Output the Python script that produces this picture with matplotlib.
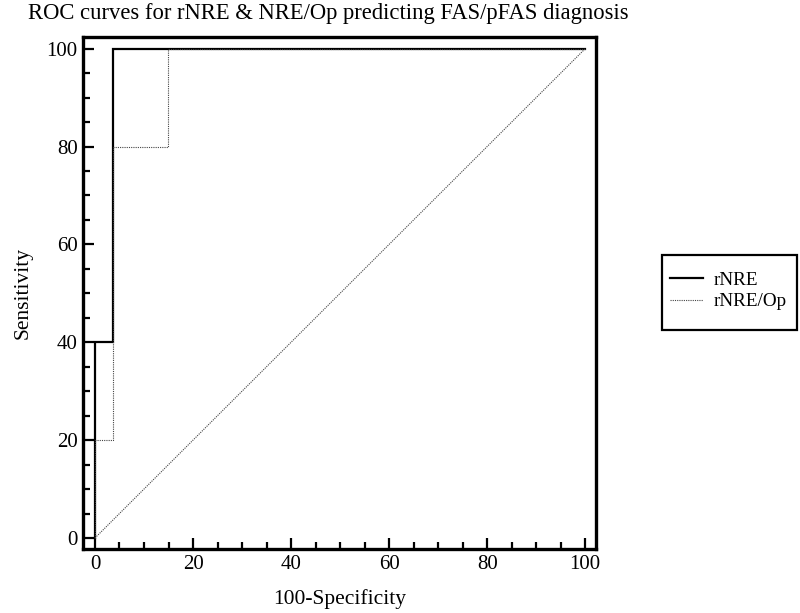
import matplotlib
matplotlib.use('Agg')
import matplotlib.pyplot as plt
from matplotlib.patches import Rectangle
from matplotlib.ticker import MultipleLocator

plt.rcParams['font.family'] = ['Liberation Serif', 'DejaVu Serif']

# ROC step points (100-specificity, sensitivity)
rnre_x = [0, 0, 3.6, 3.6, 100]
rnre_y = [0, 40, 40, 100, 100]
rnre_op_x = [0, 0, 3.6, 3.6, 14.8, 14.8, 100]
rnre_op_y = [0, 20, 20, 80, 80, 100, 100]
diag = [0, 100]

fig = plt.figure(figsize=(8, 6.13), dpi=100)
ax = fig.add_axes([0.104, 0.104, 0.641, 0.835])

l1, = ax.plot(rnre_x, rnre_y, color='black', lw=1.6, solid_joinstyle='miter')
l2, = ax.plot(rnre_op_x, rnre_op_y, color='#444444', lw=0.8, ls=(0, (1, 1)))
ax.plot(diag, diag, color='#444444', lw=0.8, ls=(0, (1, 1)))

ax.set_xlim(-2.4, 102.2)
ax.set_ylim(-2.3, 102.3)
ax.xaxis.set_major_locator(MultipleLocator(20))
ax.xaxis.set_minor_locator(MultipleLocator(5))
ax.yaxis.set_major_locator(MultipleLocator(20))
ax.yaxis.set_minor_locator(MultipleLocator(5))
ax.tick_params(which='major', direction='in', length=8, width=1.6, labelsize=15, pad=4)
ax.tick_params(which='minor', direction='in', length=5, width=1.6)
for s in ax.spines.values():
    s.set_linewidth(2.4)

ax.set_xlabel('100-Specificity', fontsize=15.5, labelpad=11)
ax.set_ylabel('Sensitivity', fontsize=15.5, labelpad=10)
ax.set_title('ROC curves for rNRE & NRE/Op predicting FAS/pFAS diagnosis',
             fontsize=16.3, pad=13, x=0.478)

# legend box outside the axes, drawn by hand so the padding can differ per side
fig.add_artist(Rectangle((0.8275, 0.4617), 0.169, 0.1223, transform=fig.transFigure,
                         facecolor='white', edgecolor='black', lw=1.6))
fig.legend([l1, l2], ['rNRE', 'rNRE/Op'], loc='center left',
           bbox_to_anchor=(0.8375, 0.5253), fontsize=13.8, frameon=False,
           handlelength=1.7, borderpad=0, labelspacing=0.2, handletextpad=0.6,
           borderaxespad=0)

fig.savefig('out.png', dpi=100)
